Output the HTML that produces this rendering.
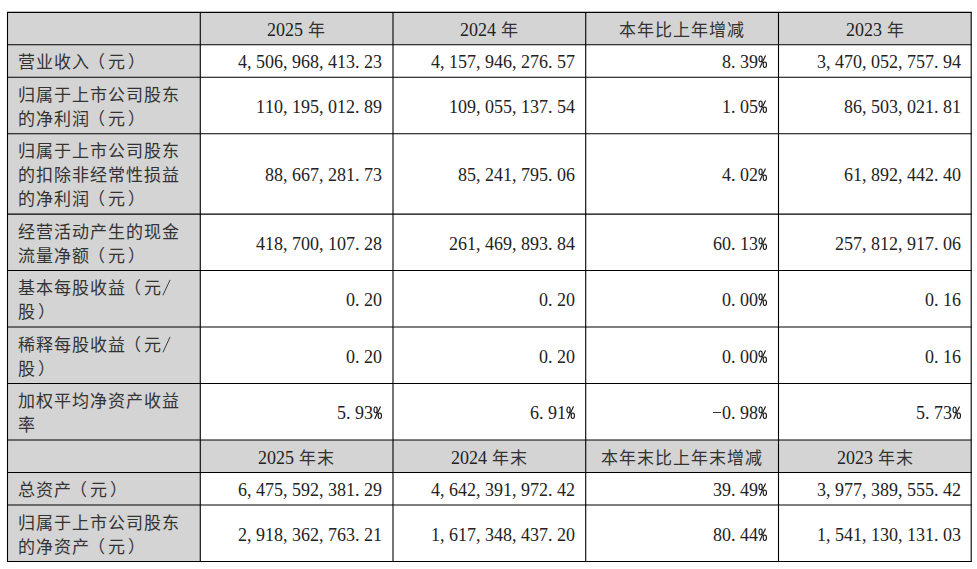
<!DOCTYPE html>
<html lang="zh-CN"><head><meta charset="utf-8"><title>主要会计数据</title><style>
html,body{margin:0;padding:0;background:#fff}
body{width:977px;height:569px;position:relative;overflow:hidden;font-family:"Liberation Serif",serif;font-size:18px;line-height:24px;color:#000}
.grid{position:absolute;left:0;top:0}
.t{position:absolute;white-space:nowrap;height:24px}
.t i,.t b,.t u{font-style:normal;font-weight:normal;text-decoration:none;display:inline-block;vertical-align:top;position:relative;height:24px}
.t i{width:9px;top:1.0px;color:#222}
.t u{top:1.0px;white-space:pre;color:#222}
.t b{width:18px;font-size:17px;top:2.0px;left:0.0px;color:#333}
.t b.lp{left:-2.0px}
.t b.rp{left:2.0px}
.t i.pc svg{position:absolute;left:0;top:0;fill:none;stroke:#111;stroke-width:1.1}
.t i.sl svg{position:absolute;left:0;top:0;fill:none;stroke:#333;stroke-width:0.95}
.t i.mi::before{content:"";position:absolute;left:-0.5px;right:1px;top:10.5px;height:1px;background:#333}
</style></head>
<body>
<svg class="grid" width="977" height="569" viewBox="0 0 977 569">
<rect x="7.50" y="12.40" width="963.70" height="549.10" fill="#d4d4d4"/>
<rect x="200.28" y="44.74" width="770.92" height="32.52" fill="#fff"/>
<rect x="200.28" y="77.26" width="770.92" height="56.44" fill="#fff"/>
<rect x="200.28" y="133.70" width="770.92" height="80.40" fill="#fff"/>
<rect x="200.28" y="214.10" width="770.92" height="56.45" fill="#fff"/>
<rect x="200.28" y="270.55" width="770.92" height="56.45" fill="#fff"/>
<rect x="200.28" y="327.00" width="770.92" height="56.50" fill="#fff"/>
<rect x="200.28" y="383.50" width="770.92" height="56.50" fill="#fff"/>
<rect x="200.28" y="472.50" width="770.92" height="32.50" fill="#fff"/>
<rect x="200.28" y="505.00" width="770.92" height="56.50" fill="#fff"/>
<g stroke="#000" stroke-width="1.1">
<line x1="7.00" y1="12.40" x2="971.70" y2="12.40"/>
<line x1="7.00" y1="44.74" x2="971.70" y2="44.74"/>
<line x1="7.00" y1="77.26" x2="971.70" y2="77.26"/>
<line x1="7.00" y1="133.70" x2="971.70" y2="133.70"/>
<line x1="7.00" y1="214.10" x2="971.70" y2="214.10"/>
<line x1="7.00" y1="270.55" x2="971.70" y2="270.55"/>
<line x1="7.00" y1="327.00" x2="971.70" y2="327.00"/>
<line x1="7.00" y1="383.50" x2="971.70" y2="383.50"/>
<line x1="7.00" y1="440.00" x2="971.70" y2="440.00"/>
<line x1="7.00" y1="472.50" x2="971.70" y2="472.50"/>
<line x1="7.00" y1="505.00" x2="971.70" y2="505.00"/>
<line x1="7.00" y1="561.50" x2="971.70" y2="561.50"/>
<line x1="7.50" y1="11.90" x2="7.50" y2="562.00"/>
<line x1="200.28" y1="11.90" x2="200.28" y2="562.00"/>
<line x1="393.00" y1="11.90" x2="393.00" y2="562.00"/>
<line x1="585.72" y1="11.90" x2="585.72" y2="562.00"/>
<line x1="778.50" y1="11.90" x2="778.50" y2="562.00"/>
<line x1="971.20" y1="11.90" x2="971.20" y2="562.00"/>
</g></svg>
<div class="t" style="left:267.0px;top:17px"><u>2</u><u>0</u><u>2</u><u>5</u><u>&#32;</u><b>年</b></div>
<div class="t" style="left:460.0px;top:17px"><u>2</u><u>0</u><u>2</u><u>4</u><u>&#32;</u><b>年</b></div>
<div class="t" style="left:619.0px;top:17px"><b>本</b><b>年</b><b>比</b><b>上</b><b>年</b><b>增</b><b>减</b></div>
<div class="t" style="left:846.0px;top:17px"><u>2</u><u>0</u><u>2</u><u>3</u><u>&#32;</u><b>年</b></div>
<div class="t" style="left:18.0px;top:49px"><b>营</b><b>业</b><b>收</b><b>入</b><b class="lp">（</b><b>元</b><b class="rp">）</b></div>
<div class="t" style="left:238.0px;top:49px"><i>4</i><i>,</i><i>5</i><i>0</i><i>6</i><i>,</i><i>9</i><i>6</i><i>8</i><i>,</i><i>4</i><i>1</i><i>3</i><i>.</i><i>2</i><i>3</i></div>
<div class="t" style="left:431.0px;top:49px"><i>4</i><i>,</i><i>1</i><i>5</i><i>7</i><i>,</i><i>9</i><i>4</i><i>6</i><i>,</i><i>2</i><i>7</i><i>6</i><i>.</i><i>5</i><i>7</i></div>
<div class="t" style="left:722.0px;top:49px"><i>8</i><i>.</i><i>3</i><i>9</i><i class="pc"><svg width="10" height="24" viewBox="0 0 10 24"><ellipse cx="2.6" cy="8.9" rx="1.6" ry="2.85"/><ellipse cx="6.8" cy="14.8" rx="1.65" ry="2.75"/><path d="M7.5 5.6L1.7 17.9"/></svg></i></div>
<div class="t" style="left:817.0px;top:49px"><i>3</i><i>,</i><i>4</i><i>7</i><i>0</i><i>,</i><i>0</i><i>5</i><i>2</i><i>,</i><i>7</i><i>5</i><i>7</i><i>.</i><i>9</i><i>4</i></div>
<div class="t" style="left:18.0px;top:82px"><b>归</b><b>属</b><b>于</b><b>上</b><b>市</b><b>公</b><b>司</b><b>股</b><b>东</b></div>
<div class="t" style="left:18.0px;top:106px"><b>的</b><b>净</b><b>利</b><b>润</b><b class="lp">（</b><b>元</b><b class="rp">）</b></div>
<div class="t" style="left:256.0px;top:94px"><i>1</i><i>1</i><i>0</i><i>,</i><i>1</i><i>9</i><i>5</i><i>,</i><i>0</i><i>1</i><i>2</i><i>.</i><i>8</i><i>9</i></div>
<div class="t" style="left:449.0px;top:94px"><i>1</i><i>0</i><i>9</i><i>,</i><i>0</i><i>5</i><i>5</i><i>,</i><i>1</i><i>3</i><i>7</i><i>.</i><i>5</i><i>4</i></div>
<div class="t" style="left:722.0px;top:94px"><i>1</i><i>.</i><i>0</i><i>5</i><i class="pc"><svg width="10" height="24" viewBox="0 0 10 24"><ellipse cx="2.6" cy="8.9" rx="1.6" ry="2.85"/><ellipse cx="6.8" cy="14.8" rx="1.65" ry="2.75"/><path d="M7.5 5.6L1.7 17.9"/></svg></i></div>
<div class="t" style="left:844.0px;top:94px"><i>8</i><i>6</i><i>,</i><i>5</i><i>0</i><i>3</i><i>,</i><i>0</i><i>2</i><i>1</i><i>.</i><i>8</i><i>1</i></div>
<div class="t" style="left:18.0px;top:138px"><b>归</b><b>属</b><b>于</b><b>上</b><b>市</b><b>公</b><b>司</b><b>股</b><b>东</b></div>
<div class="t" style="left:18.0px;top:162px"><b>的</b><b>扣</b><b>除</b><b>非</b><b>经</b><b>常</b><b>性</b><b>损</b><b>益</b></div>
<div class="t" style="left:18.0px;top:186px"><b>的</b><b>净</b><b>利</b><b>润</b><b class="lp">（</b><b>元</b><b class="rp">）</b></div>
<div class="t" style="left:265.0px;top:162px"><i>8</i><i>8</i><i>,</i><i>6</i><i>6</i><i>7</i><i>,</i><i>2</i><i>8</i><i>1</i><i>.</i><i>7</i><i>3</i></div>
<div class="t" style="left:458.0px;top:162px"><i>8</i><i>5</i><i>,</i><i>2</i><i>4</i><i>1</i><i>,</i><i>7</i><i>9</i><i>5</i><i>.</i><i>0</i><i>6</i></div>
<div class="t" style="left:722.0px;top:162px"><i>4</i><i>.</i><i>0</i><i>2</i><i class="pc"><svg width="10" height="24" viewBox="0 0 10 24"><ellipse cx="2.6" cy="8.9" rx="1.6" ry="2.85"/><ellipse cx="6.8" cy="14.8" rx="1.65" ry="2.75"/><path d="M7.5 5.6L1.7 17.9"/></svg></i></div>
<div class="t" style="left:844.0px;top:162px"><i>6</i><i>1</i><i>,</i><i>8</i><i>9</i><i>2</i><i>,</i><i>4</i><i>4</i><i>2</i><i>.</i><i>4</i><i>0</i></div>
<div class="t" style="left:18.0px;top:219px"><b>经</b><b>营</b><b>活</b><b>动</b><b>产</b><b>生</b><b>的</b><b>现</b><b>金</b></div>
<div class="t" style="left:18.0px;top:243px"><b>流</b><b>量</b><b>净</b><b>额</b><b class="lp">（</b><b>元</b><b class="rp">）</b></div>
<div class="t" style="left:256.0px;top:231px"><i>4</i><i>1</i><i>8</i><i>,</i><i>7</i><i>0</i><i>0</i><i>,</i><i>1</i><i>0</i><i>7</i><i>.</i><i>2</i><i>8</i></div>
<div class="t" style="left:449.0px;top:231px"><i>2</i><i>6</i><i>1</i><i>,</i><i>4</i><i>6</i><i>9</i><i>,</i><i>8</i><i>9</i><i>3</i><i>.</i><i>8</i><i>4</i></div>
<div class="t" style="left:713.0px;top:231px"><i>6</i><i>0</i><i>.</i><i>1</i><i>3</i><i class="pc"><svg width="10" height="24" viewBox="0 0 10 24"><ellipse cx="2.6" cy="8.9" rx="1.6" ry="2.85"/><ellipse cx="6.8" cy="14.8" rx="1.65" ry="2.75"/><path d="M7.5 5.6L1.7 17.9"/></svg></i></div>
<div class="t" style="left:835.0px;top:231px"><i>2</i><i>5</i><i>7</i><i>,</i><i>8</i><i>1</i><i>2</i><i>,</i><i>9</i><i>1</i><i>7</i><i>.</i><i>0</i><i>6</i></div>
<div class="t" style="left:18.0px;top:275px"><b>基</b><b>本</b><b>每</b><b>股</b><b>收</b><b>益</b><b class="lp">（</b><b>元</b><i class="sl"><svg width="9" height="24" viewBox="0 0 9 24"><path d="M8.1 3.9L0.9 19.3"/></svg></i></div>
<div class="t" style="left:18.0px;top:299px"><b>股</b><b class="rp">）</b></div>
<div class="t" style="left:346.0px;top:287px"><i>0</i><i>.</i><i>2</i><i>0</i></div>
<div class="t" style="left:539.0px;top:287px"><i>0</i><i>.</i><i>2</i><i>0</i></div>
<div class="t" style="left:722.0px;top:287px"><i>0</i><i>.</i><i>0</i><i>0</i><i class="pc"><svg width="10" height="24" viewBox="0 0 10 24"><ellipse cx="2.6" cy="8.9" rx="1.6" ry="2.85"/><ellipse cx="6.8" cy="14.8" rx="1.65" ry="2.75"/><path d="M7.5 5.6L1.7 17.9"/></svg></i></div>
<div class="t" style="left:925.0px;top:287px"><i>0</i><i>.</i><i>1</i><i>6</i></div>
<div class="t" style="left:18.0px;top:332px"><b>稀</b><b>释</b><b>每</b><b>股</b><b>收</b><b>益</b><b class="lp">（</b><b>元</b><i class="sl"><svg width="9" height="24" viewBox="0 0 9 24"><path d="M8.1 3.9L0.9 19.3"/></svg></i></div>
<div class="t" style="left:18.0px;top:356px"><b>股</b><b class="rp">）</b></div>
<div class="t" style="left:346.0px;top:344px"><i>0</i><i>.</i><i>2</i><i>0</i></div>
<div class="t" style="left:539.0px;top:344px"><i>0</i><i>.</i><i>2</i><i>0</i></div>
<div class="t" style="left:722.0px;top:344px"><i>0</i><i>.</i><i>0</i><i>0</i><i class="pc"><svg width="10" height="24" viewBox="0 0 10 24"><ellipse cx="2.6" cy="8.9" rx="1.6" ry="2.85"/><ellipse cx="6.8" cy="14.8" rx="1.65" ry="2.75"/><path d="M7.5 5.6L1.7 17.9"/></svg></i></div>
<div class="t" style="left:925.0px;top:344px"><i>0</i><i>.</i><i>1</i><i>6</i></div>
<div class="t" style="left:18.0px;top:388px"><b>加</b><b>权</b><b>平</b><b>均</b><b>净</b><b>资</b><b>产</b><b>收</b><b>益</b></div>
<div class="t" style="left:18.0px;top:412px"><b>率</b></div>
<div class="t" style="left:337.0px;top:400px"><i>5</i><i>.</i><i>9</i><i>3</i><i class="pc"><svg width="10" height="24" viewBox="0 0 10 24"><ellipse cx="2.6" cy="8.9" rx="1.6" ry="2.85"/><ellipse cx="6.8" cy="14.8" rx="1.65" ry="2.75"/><path d="M7.5 5.6L1.7 17.9"/></svg></i></div>
<div class="t" style="left:530.0px;top:400px"><i>6</i><i>.</i><i>9</i><i>1</i><i class="pc"><svg width="10" height="24" viewBox="0 0 10 24"><ellipse cx="2.6" cy="8.9" rx="1.6" ry="2.85"/><ellipse cx="6.8" cy="14.8" rx="1.65" ry="2.75"/><path d="M7.5 5.6L1.7 17.9"/></svg></i></div>
<div class="t" style="left:713.0px;top:400px"><i class="mi"></i><i>0</i><i>.</i><i>9</i><i>8</i><i class="pc"><svg width="10" height="24" viewBox="0 0 10 24"><ellipse cx="2.6" cy="8.9" rx="1.6" ry="2.85"/><ellipse cx="6.8" cy="14.8" rx="1.65" ry="2.75"/><path d="M7.5 5.6L1.7 17.9"/></svg></i></div>
<div class="t" style="left:916.0px;top:400px"><i>5</i><i>.</i><i>7</i><i>3</i><i class="pc"><svg width="10" height="24" viewBox="0 0 10 24"><ellipse cx="2.6" cy="8.9" rx="1.6" ry="2.85"/><ellipse cx="6.8" cy="14.8" rx="1.65" ry="2.75"/><path d="M7.5 5.6L1.7 17.9"/></svg></i></div>
<div class="t" style="left:258.0px;top:445px"><u>2</u><u>0</u><u>2</u><u>5</u><u>&#32;</u><b>年</b><b>末</b></div>
<div class="t" style="left:451.0px;top:445px"><u>2</u><u>0</u><u>2</u><u>4</u><u>&#32;</u><b>年</b><b>末</b></div>
<div class="t" style="left:601.0px;top:445px"><b>本</b><b>年</b><b>末</b><b>比</b><b>上</b><b>年</b><b>末</b><b>增</b><b>减</b></div>
<div class="t" style="left:837.0px;top:445px"><u>2</u><u>0</u><u>2</u><u>3</u><u>&#32;</u><b>年</b><b>末</b></div>
<div class="t" style="left:18.0px;top:477px"><b>总</b><b>资</b><b>产</b><b class="lp">（</b><b>元</b><b class="rp">）</b></div>
<div class="t" style="left:238.0px;top:477px"><i>6</i><i>,</i><i>4</i><i>7</i><i>5</i><i>,</i><i>5</i><i>9</i><i>2</i><i>,</i><i>3</i><i>8</i><i>1</i><i>.</i><i>2</i><i>9</i></div>
<div class="t" style="left:431.0px;top:477px"><i>4</i><i>,</i><i>6</i><i>4</i><i>2</i><i>,</i><i>3</i><i>9</i><i>1</i><i>,</i><i>9</i><i>7</i><i>2</i><i>.</i><i>4</i><i>2</i></div>
<div class="t" style="left:713.0px;top:477px"><i>3</i><i>9</i><i>.</i><i>4</i><i>9</i><i class="pc"><svg width="10" height="24" viewBox="0 0 10 24"><ellipse cx="2.6" cy="8.9" rx="1.6" ry="2.85"/><ellipse cx="6.8" cy="14.8" rx="1.65" ry="2.75"/><path d="M7.5 5.6L1.7 17.9"/></svg></i></div>
<div class="t" style="left:817.0px;top:477px"><i>3</i><i>,</i><i>9</i><i>7</i><i>7</i><i>,</i><i>3</i><i>8</i><i>9</i><i>,</i><i>5</i><i>5</i><i>5</i><i>.</i><i>4</i><i>2</i></div>
<div class="t" style="left:18.0px;top:510px"><b>归</b><b>属</b><b>于</b><b>上</b><b>市</b><b>公</b><b>司</b><b>股</b><b>东</b></div>
<div class="t" style="left:18.0px;top:534px"><b>的</b><b>净</b><b>资</b><b>产</b><b class="lp">（</b><b>元</b><b class="rp">）</b></div>
<div class="t" style="left:238.0px;top:522px"><i>2</i><i>,</i><i>9</i><i>1</i><i>8</i><i>,</i><i>3</i><i>6</i><i>2</i><i>,</i><i>7</i><i>6</i><i>3</i><i>.</i><i>2</i><i>1</i></div>
<div class="t" style="left:431.0px;top:522px"><i>1</i><i>,</i><i>6</i><i>1</i><i>7</i><i>,</i><i>3</i><i>4</i><i>8</i><i>,</i><i>4</i><i>3</i><i>7</i><i>.</i><i>2</i><i>0</i></div>
<div class="t" style="left:713.0px;top:522px"><i>8</i><i>0</i><i>.</i><i>4</i><i>4</i><i class="pc"><svg width="10" height="24" viewBox="0 0 10 24"><ellipse cx="2.6" cy="8.9" rx="1.6" ry="2.85"/><ellipse cx="6.8" cy="14.8" rx="1.65" ry="2.75"/><path d="M7.5 5.6L1.7 17.9"/></svg></i></div>
<div class="t" style="left:817.0px;top:522px"><i>1</i><i>,</i><i>5</i><i>4</i><i>1</i><i>,</i><i>1</i><i>3</i><i>0</i><i>,</i><i>1</i><i>3</i><i>1</i><i>.</i><i>0</i><i>3</i></div>
</body></html>
